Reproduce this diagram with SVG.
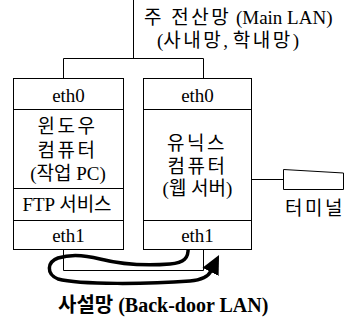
<svg xmlns="http://www.w3.org/2000/svg" width="345" height="322" viewBox="0 0 345 322">
<defs>
<style>
text{font-family:"Liberation Serif","Noto Sans CJK KR",serif;font-size:19px;fill:#000;text-anchor:middle}
.s{text-anchor:start}
.k{letter-spacing:2.5px}
.b{font-weight:bold;font-size:20px}
.box{fill:#fff;stroke:#000;stroke-width:1}
.ln{fill:none;stroke:#000;stroke-width:1}
.arr{fill:none;stroke:#000;stroke-width:3.5;stroke-linecap:round}
</style>
<marker id="ah" markerUnits="userSpaceOnUse" markerWidth="20" markerHeight="20" viewBox="0 0 20 20" refX="1" refY="10" orient="auto">
<path d="M0,1 L19,10 L0,19 z" fill="#000"/>
</marker>
</defs>
<rect width="345" height="322" fill="#fff"/>
<g id="main-lan">
<text class="s" x="144" y="24"><tspan class="k">주 전산망</tspan> (Main LAN)</text>
<text class="s" x="157" y="47">(<tspan class="k">사내망</tspan>, <tspan class="k">학내망</tspan>)</text>
</g>
<g id="connectors">
<path class="ln" d="M133.5,0 V58.5 M63.5,78 V58.5 H203.5 V78"/>
<path class="ln" d="M63.5,250 V270.5 H203.5 V250"/>
<path class="ln" d="M252,179.5 H283"/>
<path class="arr" d="M188,247 C189,258 184,263 170,264 C145,266 120,264 100,259 C85,255 70,254 58,258 C47,262 46,274 58,279 C80,285 150,284 190,281 C201,280 208,277 211,271" marker-end="url(#ah)"/>
</g>
<g id="windows-pc">
<rect class="box" x="13.5" y="78.5" width="110" height="171"/>
<path class="ln" d="M13.5,109.5 H123.5 M13.5,188.5 H123.5 M13.5,220.5 H123.5"/>
<text x="68.5" y="102">eth0</text>
<text class="k" x="67.5" y="133">윈도우</text>
<text class="k" x="67.5" y="157">컴퓨터</text>
<text x="68" y="180">(작업 PC)</text>
<text x="67" y="211">FTP 서비스</text>
<text x="68.5" y="242">eth1</text>
</g>
<g id="unix-pc">
<rect class="box" x="143.5" y="78.5" width="108" height="171"/>
<path class="ln" d="M143.5,109.5 H251.5 M143.5,220.5 H251.5"/>
<text x="197.5" y="102">eth0</text>
<text class="k" x="197" y="150">유닉스</text>
<text class="k" x="197.5" y="173">컴퓨터</text>
<text x="197.5" y="195">(웹 서버)</text>
<text x="197.5" y="242">eth1</text>
</g>
<g id="terminal">
<polygon class="box" points="283.5,169.5 343.5,173 343.5,189.5 283.5,189.5"/>
<text class="k" x="315" y="215">터미널</text>
</g>
<g id="backdoor-lan">
<text class="b s" x="58" y="312">사설망 (Back-door LAN)</text>
</g>
</svg>
